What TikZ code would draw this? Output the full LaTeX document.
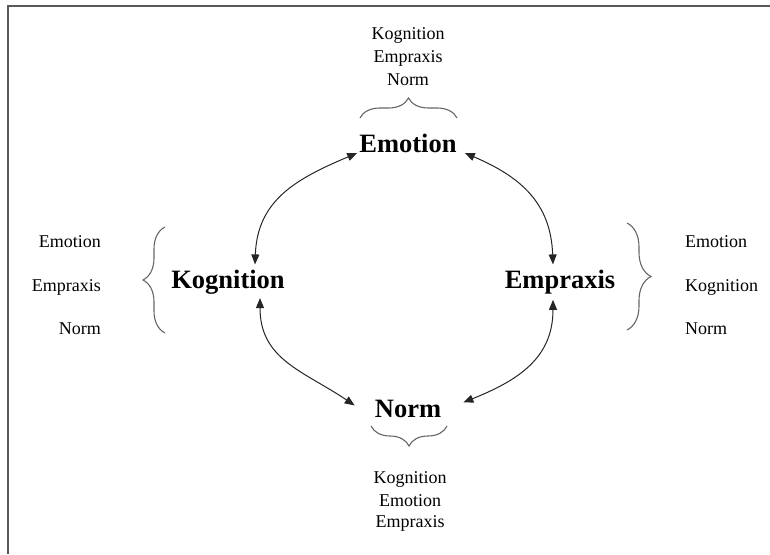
\documentclass[tikz,border=0pt]{standalone}
\usepackage{fontspec}
\setmainfont{Liberation Serif}
\usetikzlibrary{arrows.meta,decorations.pathreplacing}
\begin{document}
\begin{tikzpicture}[x=1pt,y=1pt,
 big/.style={font=\fontsize{26.5}{30}\selectfont\bfseries, inner sep=2pt, anchor=base, text=black},
 small/.style={font=\fontsize{18}{22}\selectfont, inner sep=0pt, text=black},
 link/.style={draw=black!85, line width=1pt, {Triangle[length=10pt,width=8pt]}-{Triangle[length=10pt,width=8pt]}},
 bracestyle/.style={draw=black!60, line width=1.1pt, decorate, decoration={brace,amplitude=#1}},
]
\useasboundingbox (0,0) rectangle (770,554);
\draw[black!65, line width=2pt] (8,0) -- (8,548) -- (770,548);

\node[big] (emo) at (408,401) {Emotion};
\node[big] (kog) at (228,265) {Kognition};
\node[big] (emp) at (560,265) {Empraxis};
\node[big] (norm) at (408,136) {Norm};

% top list
\node[small, anchor=base] (t1) at (408,514) {Kognition};
\node[small, anchor=base] (t2) at (408,491) {Empraxis};
\node[small, anchor=base] (t3) at (408,468) {Norm};
% bottom list
\node[small, anchor=base] (b1) at (410,71) {Kognition};
\node[small, anchor=base] (b2) at (410,48) {Emotion};
\node[small, anchor=base] (b3) at (410,27) {Empraxis};
% left list
\node[small, anchor=base east] (l1) at (101,306) {Emotion};
\node[small, anchor=base east] (l2) at (101,262) {Empraxis};
\node[small, anchor=base east] (l3) at (101,219) {Norm};
% right list
\node[small, anchor=base west] (r1) at (685,306) {Emotion};
\node[small, anchor=base west] (r2) at (685,262) {Kognition};
\node[small, anchor=base west] (r3) at (685,219) {Norm};

% braces
\draw[bracestyle=20] (360,436) -- (457,436);
\draw[bracestyle=20] (447,128) -- (371,128);
\draw[bracestyle=22] (165,221) -- (165,327);
\draw[bracestyle=24] (627,331) -- (627,224);

% connectors
\draw[link] ([xshift=27pt,yshift=4pt]kog.north) to[out=88,in=203,looseness=1.1] (emo.base west);
\draw[link] ([xshift=-7pt,yshift=4pt]emp.north) to[out=92,in=-23,looseness=1.1] ([xshift=6pt]emo.base east);
\draw[link] ([xshift=32pt,yshift=-1pt]kog.south) to[out=-90,in=146,looseness=1.1] ([xshift=-18pt,yshift=4pt]norm.west);
\draw[link] ([xshift=-7pt,yshift=-3pt]emp.south) to[out=-90,in=22,looseness=1.1] ([xshift=20pt,yshift=7pt]norm.east);
\end{tikzpicture}
\end{document}
